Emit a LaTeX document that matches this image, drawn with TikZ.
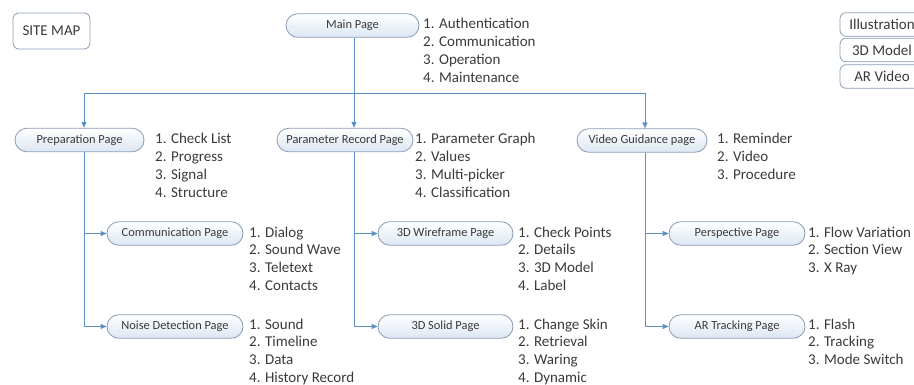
\documentclass[tikz,border=0pt]{standalone}
\usepackage{fontspec}
\setmainfont{Carlito}
\usetikzlibrary{arrows.meta,shapes.misc}
\definecolor{conn}{HTML}{5B8FC7}
\definecolor{nodeborder}{HTML}{8A9DB6}
\definecolor{nodebottom}{HTML}{DCE6F2}
\definecolor{txt}{HTML}{3A3A3A}
\newcommand{\itemlist}[1]{\begin{tabular}[t]{@{}l@{}}#1\end{tabular}}
\tikzset{
  pagebox/.style={rounded rectangle, draw=nodeborder, line width=0.8pt,
    top color=white, bottom color=nodebottom, minimum height=23.5pt,
    inner sep=0pt, text=txt, font=\fontsize{12.4}{14}\selectfont},
  listtext/.style={anchor=base west, inner sep=0pt, text=txt,
    font=\fontsize{15}{17.7}\selectfont},
  legendbox/.style={draw=nodeborder, line width=0.8pt, rounded corners=6pt,
    fill=white, minimum width=84pt, minimum height=23.5pt, inner sep=0pt,
    text=txt, font=\fontsize{15}{17.7}\selectfont},
  arr/.style={draw=conn, line width=1pt, -{Triangle[length=6pt,width=5pt]}},
}
\begin{document}
\begin{tikzpicture}[x=1pt,y=-1pt]
\useasboundingbox (0,0) rectangle (914,385);

% title and legend
\node[legendbox, minimum width=77pt, minimum height=36pt] (sitemap) at (51.5,31) {SITE MAP};
\node[legendbox] (leg1) at (882,24.5) {Illustration};
\node[legendbox] (leg2) at (882,50) {3D Model};
\node[legendbox] (leg3) at (882,76.5) {AR Video};

% page nodes
\node[pagebox, minimum width=133pt] (main) at (352.5,25.5) {Main Page};
\node[pagebox, minimum width=129pt] (prep) at (79.5,140) {Preparation Page};
\node[pagebox, minimum width=136pt] (param) at (345,140) {Parameter Record Page};
\node[pagebox, minimum width=130pt] (video) at (642,140.5) {Video Guidance page};
\node[pagebox, minimum width=136pt] (comm) at (175,233.5) {Communication Page};
\node[pagebox, minimum width=136pt] (noise) at (175,326.5) {Noise Detection Page};
\node[pagebox, minimum width=135pt] (wire) at (445.5,233.5) {3D Wireframe Page};
\node[pagebox, minimum width=135pt] (solid) at (445.5,326.5) {3D Solid Page};
\node[pagebox, minimum width=136pt] (persp) at (737,233.5) {Perspective Page};
\node[pagebox, minimum width=136pt] (artrack) at (737,326.5) {AR Tracking Page};

% lists
\node[listtext] (lmain) at (423,29) {\itemlist{1. Authentication\\2. Communication\\3. Operation\\4. Maintenance}};
\node[listtext] (lprep) at (155,144) {\itemlist{1. Check List\\2. Progress\\3. Signal\\4. Structure}};
\node[listtext] (lparam) at (415,144) {\itemlist{1. Parameter Graph\\2. Values\\3. Multi-picker\\4. Classification}};
\node[listtext] (lvideo) at (717,144) {\itemlist{1. Reminder\\2. Video\\3. Procedure}};
\node[listtext] (lcomm) at (249,237) {\itemlist{1. Dialog\\2. Sound Wave\\3. Teletext\\4. Contacts}};
\node[listtext] (lnoise) at (249,329) {\itemlist{1. Sound\\2. Timeline\\3. Data\\4. History Record}};
\node[listtext] (lwire) at (518,237) {\itemlist{1. Check Points\\2. Details\\3. 3D Model\\4. Label}};
\node[listtext] (lsolid) at (518,329) {\itemlist{1. Change Skin\\2. Retrieval\\3. Waring\\4. Dynamic}};
\node[listtext] (lpersp) at (808,237) {\itemlist{1. Flow Variation\\2. Section View\\3. X Ray}};
\node[listtext] (lar) at (808,329) {\itemlist{1. Flash\\2. Tracking\\3. Mode Switch}};

% bus coordinates
\coordinate (b0) at (354,94);
\coordinate (b1) at (84,94);
\coordinate (b2) at (645,94);

% connectors
\draw[arr] (main.south -| b0) -- (param.north -| b0);
\draw[arr] (b0) -| (prep.north -| b1);
\draw[arr] (b0) -| (video.north -| b2);

\draw[arr] (prep.south -| b1) |- (comm.west);
\draw[arr] (prep.south -| b1) |- (noise.west);
\draw[arr] (param.south -| b0) |- (wire.west);
\draw[arr] (param.south -| b0) |- (solid.west);
\draw[arr] (video.south -| b2) |- (persp.west);
\draw[arr] (video.south -| b2) |- (artrack.west);
\end{tikzpicture}
\end{document}
